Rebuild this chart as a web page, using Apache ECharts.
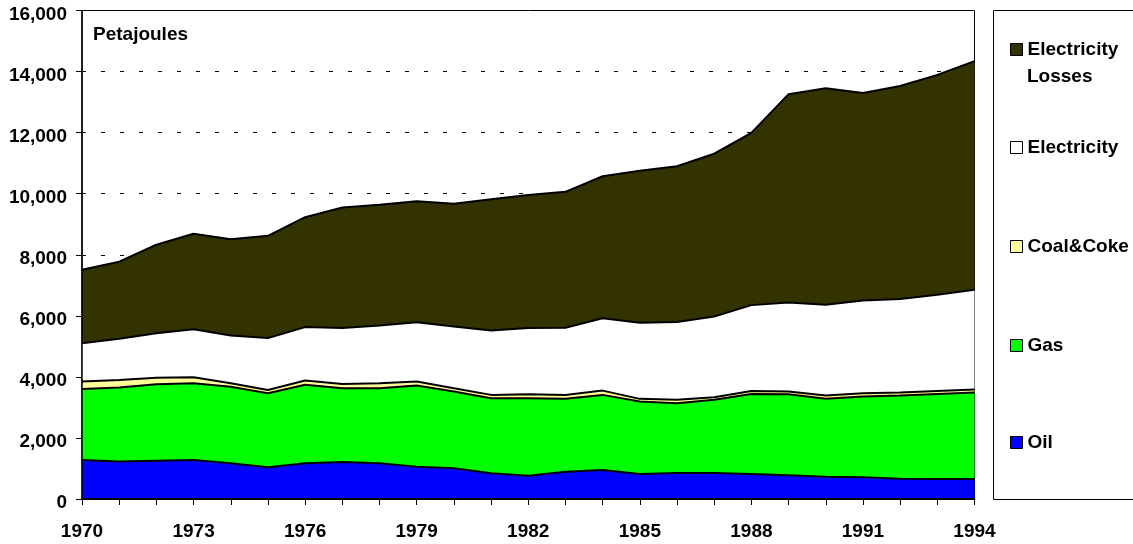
<!DOCTYPE html>
<html>
<head>
<meta charset="utf-8">
<title>Energy consumption, petajoules</title>
<script src="https://cdn.jsdelivr.net/npm/echarts@6/dist/echarts.min.js"></script>
<style>
  html, body { margin: 0; padding: 0; background: #fff; }
  #chart { width: 1133px; height: 544px; }
</style>
</head>
<body>
<div id="chart"></div>
<script>
  // years on the x axis
  var years = ['1970', '1971', '1972', '1973', '1974', '1975', '1976', '1977', '1978', '1979', '1980', '1981',
    '1982', '1983', '1984', '1985', '1986', '1987', '1988', '1989', '1990', '1991', '1992', '1993', '1994'];

  // petajoules (stacked, bottom to top)
  var oil = [1280, 1225, 1255, 1280, 1170, 1040, 1170, 1210, 1170, 1060, 1005, 840, 765, 895, 950, 820, 850,
    850, 820, 775, 730, 710, 665, 655, 655];
  var gas = [2320, 2425, 2505, 2510, 2510, 2425, 2570, 2420, 2460, 2655, 2515, 2460, 2535, 2385, 2460, 2370,
    2290, 2400, 2620, 2655, 2550, 2645, 2725, 2785, 2830];
  var coalCoke = [250, 250, 210, 200, 110, 105, 140, 140, 160, 135, 110, 110, 130, 130, 140, 90, 110, 80, 100,
    90, 110, 110, 100, 100, 100];
  var electricity = [1250, 1345, 1460, 1570, 1565, 1700, 1750, 1830, 1890, 1940, 2020, 2110, 2170, 2200, 2370,
    2490, 2550, 2650, 2810, 2920, 2970, 3035, 3060, 3150, 3265];
  var electricityLosses = [2410, 2525, 2900, 3130, 3155, 3350, 3600, 3950, 3960, 3960, 4020, 4300, 4360, 4450,
    4650, 4980, 5100, 5330, 5640, 6820, 7090, 6800, 6980, 7200, 7490];

  var yTicks = [0, 2000, 4000, 6000, 8000, 10000, 12000, 14000, 16000];

  var font = '"Liberation Sans", Arial, sans-serif';
  var fs = 19;

  var chart = echarts.init(document.getElementById('chart'));

  function area(name, data, color) {
    return {
      name: name,
      type: 'line',
      stack: 'total',
      data: data,
      symbol: 'none',
      color: color,
      lineStyle: { color: '#000', width: 2 },
      areaStyle: { color: color, opacity: 1 },
      emphasis: { disabled: true }
    };
  }

  function legendItem(name, center) {
    return {
      data: [name],
      left: 1010,
      top: center - 10,
      padding: 0,
      icon: 'rect',
      itemWidth: 12,
      itemHeight: 12,
      itemGap: 0,
      selectedMode: false,
      itemStyle: { borderColor: '#000', borderWidth: 1 },
      textStyle: { fontFamily: font, fontSize: fs, fontWeight: 'bold', color: '#000' },
      formatter: function (n) { return n === 'Electricity Losses' ? 'Electricity' : n; }
    };
  }

  chart.setOption({
    animation: false,
    title: {
      text: 'Petajoules',
      left: 88,
      top: 20,
      textStyle: { fontFamily: font, fontSize: fs, fontWeight: 'bold', color: '#000' }
    },
    grid: {
      left: 82,
      right: 158.5,
      top: 10.5,
      bottom: 45,
      show: true,
      borderColor: '#000',
      borderWidth: 1
    },
    legend: [
      legendItem('Electricity Losses', 50),
      legendItem('Electricity', 148),
      legendItem('Coal&Coke', 247),
      legendItem('Gas', 346),
      legendItem('Oil', 443)
    ],
    graphic: [
      {
        type: 'rect',
        shape: { x: 993.5, y: 10.5, width: 200, height: 489 },
        style: { fill: 'none', stroke: '#000', lineWidth: 1 },
        silent: true
      },
      {
        type: 'text',
        left: 1027,
        top: 67,
        style: { text: 'Losses', font: 'bold ' + fs + 'px ' + font, fill: '#000' },
        silent: true
      }
    ],
    xAxis: {
      type: 'category',
      data: years,
      boundaryGap: false,
      axisLine: { lineStyle: { color: '#000', width: 2 } },
      axisTick: { show: true, interval: 0, length: 6, lineStyle: { color: '#000', width: 1 } },
      axisLabel: {
        interval: 2,
        margin: 23,
        fontFamily: font,
        fontSize: fs,
        fontWeight: 'bold',
        color: '#000'
      },
      splitLine: { show: false },
      z: 10
    },
    yAxis: [
      {
        // dashed grid lines, kept behind the areas
        type: 'value',
        min: yTicks[0],
        max: yTicks[yTicks.length - 1],
        interval: 2000,
        axisLine: { show: false },
        axisTick: { show: false },
        axisLabel: { show: false },
        splitLine: {
          show: true,
          showMinLine: false,
          showMaxLine: false,
          lineStyle: { color: '#000', width: 1, type: [4, 15] }
        },
        z: 0
      },
      {
        type: 'value',
        min: yTicks[0],
        max: yTicks[yTicks.length - 1],
        interval: 2000,
        position: 'left',
        axisLine: { show: true, lineStyle: { color: '#000', width: 1.5 } },
        axisTick: { show: true, length: 6, lineStyle: { color: '#000', width: 1 } },
        axisLabel: {
          margin: 15,
          verticalAlign: 'top',
          lineHeight: 8,
          fontFamily: font,
          fontSize: fs,
          fontWeight: 'bold',
          color: '#000',
          formatter: function (v) { return v.toLocaleString('en-US'); }
        },
        splitLine: { show: false },
        z: 10
      }
    ],
    series: [
      area('Oil', oil, '#0000ff'),
      area('Gas', gas, '#00ff00'),
      area('Coal&Coke', coalCoke, '#ffff99'),
      area('Electricity', electricity, '#ffffff'),
      area('Electricity Losses', electricityLosses, '#333300')
    ]
  });
</script>
</body>
</html>
